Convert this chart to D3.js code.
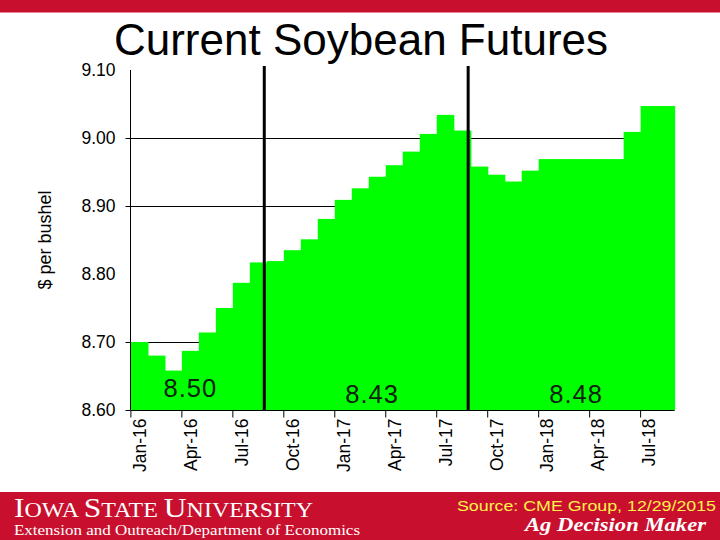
<!DOCTYPE html>
<html>
<head>
<meta charset="utf-8">
<script src="https://cdn.jsdelivr.net/npm/d3@7"></script>
<style>
  html, body { margin: 0; padding: 0; background: #fff; }
  svg { display: block; }
</style>
</head>
<body>
<svg id="chart" width="720" height="540"></svg>
<script>
// ---------- data ----------
const months = ["Jan-16","Feb-16","Mar-16","Apr-16","May-16","Jun-16","Jul-16","Aug-16",
                "Sep-16","Oct-16","Nov-16","Dec-16","Jan-17","Feb-17","Mar-17","Apr-17",
                "May-17","Jun-17","Jul-17","Aug-17","Sep-17","Oct-17","Nov-17","Dec-17",
                "Jan-18","Feb-18","Mar-18","Apr-18","May-18","Jun-18","Jul-18","Aug-18"];
const prices = [8.700, 8.680, 8.658, 8.687, 8.714, 8.750, 8.787, 8.817,
                8.819, 8.835, 8.851, 8.881, 8.909, 8.926, 8.943, 8.960,
                8.980, 9.006, 9.034, 9.011, 8.958, 8.946, 8.936, 8.952,
                8.969, 8.969, 8.969, 8.969, 8.969, 9.009, 9.047, 9.047];
const xTickLabels = ["Jan-16","Apr-16","Jul-16","Oct-16","Jan-17","Apr-17","Jul-17",
                     "Oct-17","Jan-18","Apr-18","Jul-18"];
const yTicks = [8.60, 8.70, 8.80, 8.90, 9.00, 9.10];
const gridValues = [8.70, 8.90, 9.00];
const cropYearBreaks = ["Aug-16", "Aug-17"];
const cropYearAverages = ["8.50", "8.43", "8.48"];

// ---------- layout (not data) ----------
const avgLabelPos = [{m: "Apr-16", f: 0.5, by: 397}, {m: "Mar-17", f: 0.2, by: 403}, {m: "Mar-18", f: 0.2, by: 403}];
const breakFrac = 0.85;

const svg = d3.select("#chart");
const red = "#C8102E";
const sans = "Liberation Sans, Arial, sans-serif";
const serif = "Liberation Serif, Times New Roman, serif";

const x = d3.scaleBand().domain(months).range([130.9, 674.6]).paddingInner(0).paddingOuter(0);
const y = d3.scaleLinear().domain([8.6, 9.1]).range([410, 70]);
const bw = x.bandwidth();

// top band
svg.append("rect").attr("x", 0).attr("y", 0).attr("width", 720).attr("height", 12.5).attr("fill", red);

// title
svg.append("text").attr("x", 361).attr("y", 55).attr("text-anchor", "middle")
  .attr("font-family", sans).attr("font-size", 44)
  .attr("fill", "#000").text("Current Soybean Futures");

// gridlines
svg.append("g").selectAll("line").data(gridValues).join("line")
  .attr("x1", 130.5).attr("x2", 674.6)
  .attr("y1", d => Math.round(y(d)) + 0.5).attr("y2", d => Math.round(y(d)) + 0.5)
  .attr("stroke", "#000").attr("stroke-width", 1);

// bars
svg.append("g").selectAll("rect").data(months).join("rect")
  .attr("x", d => x(d))
  .attr("width", bw + 0.6)
  .attr("y", (d, i) => y(prices[i]))
  .attr("height", (d, i) => y(8.6) - y(prices[i]))
  .attr("fill", "#00FF00");

// y axis
const yAxis = svg.append("g").attr("transform", "translate(130.5,0)")
  .call(d3.axisLeft(y).tickValues(yTicks).tickFormat(d3.format(".2f")).tickSize(5).tickPadding(10));
yAxis.select(".domain").attr("stroke", "#000").attr("d", "M0,70V410");
yAxis.selectAll(".tick line").attr("stroke", "#000")
  .attr("display", d => (Math.abs(d - 8.8) < 1e-6 || Math.abs(d - 9.1) < 1e-6) ? "none" : null);
yAxis.selectAll(".tick text").attr("font-family", sans)
  .attr("font-size", 17.5).attr("fill", "#000");

// x axis
const xAxis = svg.append("g").attr("transform", "translate(0,410.5)")
  .call(d3.axisBottom(x).tickValues(xTickLabels).tickSize(7).tickPadding(8));
xAxis.select(".domain").attr("stroke", "#000").attr("d", "M130.5,0H674.6");
xAxis.selectAll(".tick line").attr("stroke", "#000").attr("x1", -bw / 2).attr("x2", -bw / 2);
xAxis.selectAll(".tick text")
  .attr("font-family", sans).attr("font-size", 17.5).attr("fill", "#000")
  .attr("transform", "rotate(-90)")
  .attr("text-anchor", "end")
  .attr("x", -8).attr("y", 0).attr("dy", "0.36em");

// crop year separators
svg.append("g").selectAll("line").data(cropYearBreaks).join("line")
  .attr("x1", d => x(d) + bw * breakFrac).attr("x2", d => x(d) + bw * breakFrac)
  .attr("y1", 66).attr("y2", 410)
  .attr("stroke", "#000").attr("stroke-width", 3);

// crop-year averages
svg.append("g").selectAll("text").data(cropYearAverages).join("text")
  .attr("x", (d, i) => x(avgLabelPos[i].m) + bw * avgLabelPos[i].f)
  .attr("y", (d, i) => avgLabelPos[i].by)
  .attr("text-anchor", "middle")
  .attr("font-family", sans).attr("font-size", 25.5)
  .attr("letter-spacing", 1)
  .attr("fill", "#0d220d").text(d => d);

// y axis title
svg.append("text").attr("transform", "translate(51,240) rotate(-90)")
  .attr("text-anchor", "middle")
  .attr("font-family", sans).attr("font-size", 18)
  .attr("fill", "#000").text("$ per bushel");

// footer
svg.append("rect").attr("x", 0).attr("y", 492).attr("width", 720).attr("height", 48).attr("fill", red);

const isu = svg.append("text").attr("x", 14).attr("y", 516.5)
  .attr("font-family", serif).attr("fill", "#fff")
  .attr("textLength", 299).attr("lengthAdjust", "spacingAndGlyphs");
[["I", 27], ["OWA ", 20.5], ["S", 27], ["TATE ", 20.5], ["U", 27], ["NIVERSITY", 20.5]].forEach(([t, s]) => {
  isu.append("tspan").attr("font-size", s).text(t);
});

svg.append("text").attr("x", 14).attr("y", 534.5)
  .attr("font-family", serif).attr("font-size", 14.5)
  .attr("fill", "#fff").attr("textLength", 346).attr("lengthAdjust", "spacingAndGlyphs")
  .text("Extension and Outreach/Department of Economics");

svg.append("text").attr("x", 457).attr("y", 511)
  .attr("font-family", sans).attr("font-size", 14)
  .attr("fill", "#FFF24A").attr("textLength", 259).attr("lengthAdjust", "spacingAndGlyphs")
  .text("Source: CME Group, 12/29/2015");

svg.append("text").attr("x", 525).attr("y", 531)
  .attr("font-family", serif).attr("font-size", 19.5)
  .attr("font-weight", "bold").attr("font-style", "italic")
  .attr("fill", "#fff").attr("textLength", 181).attr("lengthAdjust", "spacingAndGlyphs")
  .text("Ag Decision Maker");
</script>
</body>
</html>
